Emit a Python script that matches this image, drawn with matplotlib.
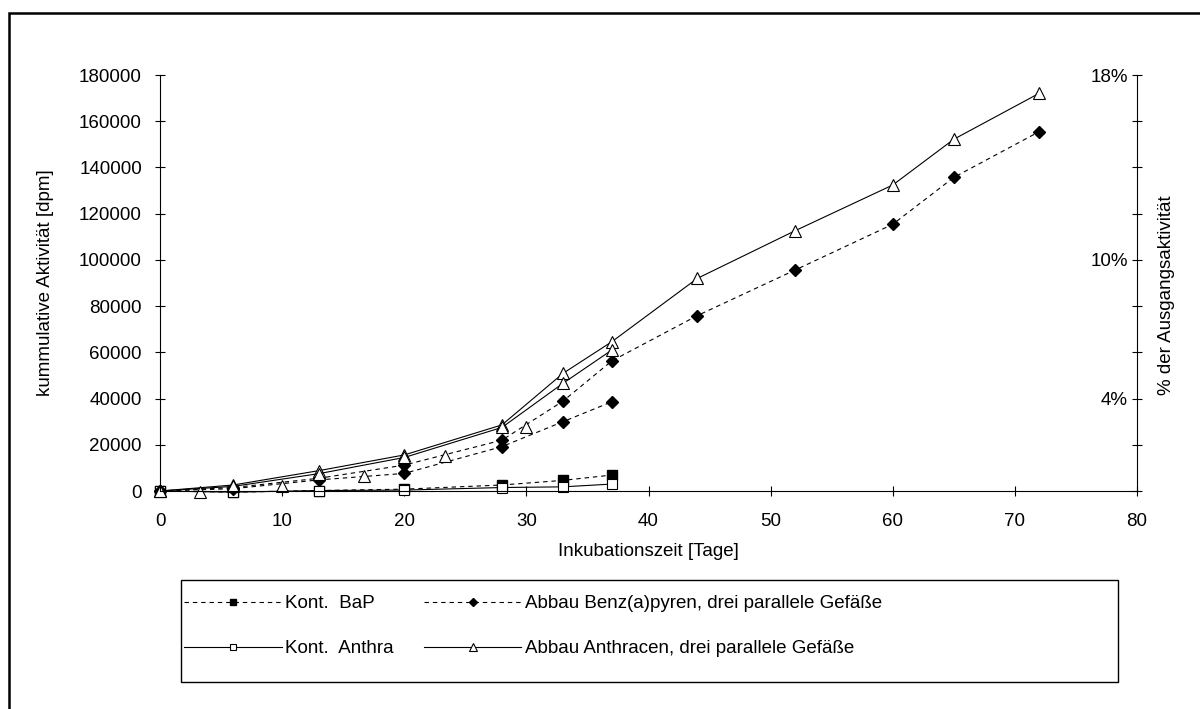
import matplotlib
matplotlib.use("Agg")
import matplotlib.pyplot as plt
from matplotlib.patches import Rectangle

plt.rcParams['font.family'] = ['Liberation Sans', 'DejaVu Sans']
plt.rcParams['font.size'] = 13.5

# Messtage und kumulative Aktivitaet [dpm]
days = [0, 6, 13, 20, 28, 33, 37, 44, 52, 60, 65, 72]
days_short = [0, 6, 13, 20, 28, 33, 37]
days_c = [0, 3.3, 10, 16.7, 23.3, 30]

kont_bap = [0, -500, 200, 800, 2600, 4600, 6900]
kont_anthra = [0, -500, 200, 400, 1500, 1800, 3000]

bap_1 = [0, 1500, 5500, 11200, 22000, 38900, 56300, 75900, 95600, 115400, 135700, 155500]
bap_2 = [0, 1000, 4800, 7600, 19200, 30000, 38600]

anthra_1 = [0, 2600, 8800, 15600, 28600, 50900, 64600, 92000, 112600, 132400, 152200, 172100]
anthra_2 = [0, 2000, 7500, 14500, 27500, 46600, 61000]
anthra_3 = [0, -500, 2200, 6500, 15100, 27800]

y_ticks = list(range(0, 180001, 20000))
x_ticks = list(range(0, 81, 10))
pct_ticks = list(range(0, 19, 2))
pct_labels = {18: '18%', 10: '10%', 4: '4%'}

W, H = 1200, 709
fig = plt.figure(figsize=(W / 100, H / 100), dpi=100)
ax = fig.add_axes([160 / W, 1 - 491 / H, 977 / W, 416 / H])

dash = (0, (4, 3.5))
lw = 0.8

h_kb, = ax.plot(days_short, kont_bap, color='black', lw=lw, ls=dash, marker='s',
                ms=7.5, mfc='black', mec='black', clip_on=False)
h_ka, = ax.plot(days_short, kont_anthra, color='black', lw=lw, ls='-', marker='s',
                ms=7.5, mfc='white', mec='black', mew=0.8, clip_on=False)

h_b, = ax.plot(days, bap_1, color='black', lw=lw, ls=dash, marker='D',
               ms=6, mfc='black', mec='black', clip_on=False)
ax.plot(days_short, bap_2, color='black', lw=lw, ls=dash, marker='D',
        ms=6, mfc='black', mec='black', clip_on=False)

h_a, = ax.plot(days, anthra_1, color='black', lw=lw, ls='-', marker='^',
               ms=9, mfc='white', mec='black', mew=0.8, clip_on=False)
ax.plot(days_short, anthra_2, color='black', lw=lw, ls='-', marker='^',
        ms=9, mfc='white', mec='black', mew=0.8, clip_on=False)
ax.plot(days_c, anthra_3, color='black', ls='none', marker='^',
        ms=9, mfc='white', mec='black', mew=0.8, clip_on=False)

ax.set_xlim(0, 80)
ax.set_ylim(0, 180000)
ax.set_xticks(x_ticks)
ax.set_yticks(y_ticks)
ax.set_yticklabels([str(v) for v in y_ticks])
ax.tick_params(direction='inout', length=7, width=0.8, color='black')
ax.tick_params(axis='y', pad=9.5)
ax.tick_params(axis='x', pad=12)
for s in ['left', 'bottom']:
    ax.spines[s].set_linewidth(0.8)
ax.spines['top'].set_visible(False)
ax.spines['right'].set_visible(False)

ax.set_xlabel('Inkubationszeit [Tage]')
ax.xaxis.set_label_coords(0.5, -0.125)
ax.xaxis.label.set_va('top')
ax.set_ylabel('kummulative Aktivität [dpm]')
ax.yaxis.set_label_coords(-0.108, 0.5)

# rechte Achse: Anteil an der Ausgangsaktivitaet
ax2 = ax.twinx()
ax2.set_ylim(0, 18)
ax2.set_yticks(pct_ticks)
ax2.set_yticklabels([pct_labels.get(v, '') for v in pct_ticks])
ax2.tick_params(axis='y', direction='inout', length=7, width=0.8, pad=-10)
for lab in ax2.get_yticklabels():
    lab.set_ha('right')
for s in ['top', 'left', 'bottom']:
    ax2.spines[s].set_visible(False)
ax2.spines['right'].set_linewidth(0.8)
ax2.set_ylabel('% der Ausgangsaktivität')
ax2.yaxis.set_label_coords(1.0215, 0.47)

# Legende mit eigenem Rahmen
leg = fig.legend([h_kb, h_ka, h_b, h_a],
                 ['Kont.  BaP', 'Kont.  Anthra',
                  'Abbau Benz(a)pyren, drei parallele Gefäße',
                  'Abbau Anthracen, drei parallele Gefäße'],
                 ncol=2, loc='upper left', bbox_to_anchor=(184 / W, 1 - 595 / H),
                 frameon=False, borderpad=0, borderaxespad=0,
                 handlelength=5.2, handletextpad=0.2, columnspacing=1.6,
                 labelspacing=1.5, markerscale=0.65, numpoints=1)
fig.add_artist(Rectangle((181 / W, 1 - 682 / H), 937 / W, 102 / H,
                         transform=fig.transFigure, fill=False,
                         ec='black', lw=1))

# Rahmen um die Grafik
fig.add_artist(Rectangle((9 / W, -0.1), 1.2, 1.1 - 13 / H,
                         transform=fig.transFigure, fill=False,
                         ec='black', lw=1.8, clip_on=False))

fig.savefig('out.png', dpi=100)
